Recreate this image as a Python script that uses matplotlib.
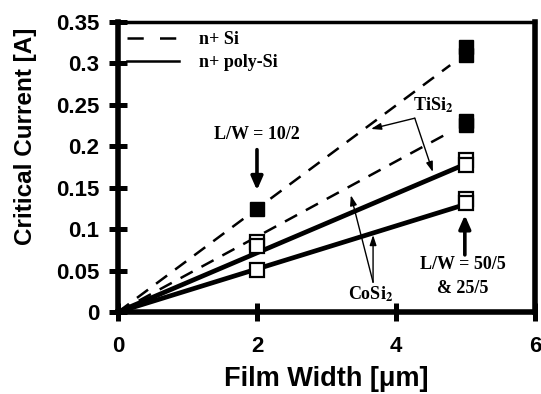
"""Critical current vs film width for TiSi2 / CoSi2 on n+ Si and n+ poly-Si."""
import matplotlib
matplotlib.use("Agg")
import matplotlib.pyplot as plt
from matplotlib.lines import Line2D

plt.rcParams["mathtext.fontset"] = "stix"

SANS = "Liberation Sans"
SERIF = "Liberation Serif"

# fitted lines through the origin (end points)
fit_labels = ["TiSi2 / n+ Si", "CoSi2 / n+ Si", "TiSi2 / n+ poly-Si", "CoSi2 / n+ poly-Si"]
fit_x = [[0, 4.78], [0, 4.75], [0, 5.04], [0, 5.04]]
fit_y = [[0, 0.298], [0, 0.216], [0, 0.180], [0, 0.131]]
fit_dashed = [True, True, False, False]

# measured points
filled_x = [2, 5, 5, 5, 5]
filled_y = [0.124, 0.320, 0.310, 0.230, 0.226]
open_x = [2, 2, 2, 5, 5, 5, 5]
open_y = [0.085, 0.080, 0.051, 0.184, 0.177, 0.137, 0.132]

x_ticks = [0, 2, 4, 6]
y_ticks = [0, 0.05, 0.1, 0.15, 0.2, 0.25, 0.3, 0.35]
y_ticklabels = ["0", "0.05", "0.1", "0.15", "0.2", "0.25", "0.3", "0.35"]

fig = plt.figure(figsize=(5.41, 3.94), dpi=100)
ax = fig.add_axes([0.218, 0.208, 0.771, 0.736])

for xs, ys, dashed in zip(fit_x, fit_y, fit_dashed):
    if dashed:
        ax.plot(xs, ys, color="black", lw=1.8, dashes=(5.5, 4), zorder=2)
    else:
        ax.plot(xs, ys, color="black", lw=3.4, solid_capstyle="butt", zorder=2)

ax.plot(open_x, open_y, "s", ms=10, mfc="white", mec="black", mew=1.6, zorder=3)
ax.plot(filled_x, filled_y, "s", ms=10, mfc="black", mec="black", zorder=4)

ax.set_xlim(0, 6)
ax.set_ylim(0, 0.35)
ax.set_xticks(x_ticks)
ax.set_yticks(y_ticks)
ax.set_yticklabels(y_ticklabels)
for lab in ax.get_xticklabels() + ax.get_yticklabels():
    lab.set_fontfamily(SANS)
    lab.set_fontweight("bold")
    lab.set_fontsize(16)
ax.tick_params(axis="both", direction="inout", length=13, width=3.6)
ax.tick_params(axis="x", pad=11)
ax.tick_params(axis="y", pad=7)
for s in ("left", "bottom", "right"):
    ax.spines[s].set_linewidth(4)
ax.spines["top"].set_linewidth(2.5)

ax.set_xlabel("Film Width [μm]", fontfamily=SANS, fontweight="bold", fontsize=19.5)
ax.set_ylabel("Critical Current [A]", fontfamily=SANS, fontweight="bold", fontsize=17.5)
ax.xaxis.set_label_coords(0.5, -0.232)
ax.yaxis.set_label_coords(-0.222, 0.607)
ax.xaxis.label.set_va("center")
ax.yaxis.label.set_va("center")

handles = [Line2D([], [], color="black", lw=1.8, dashes=(6.5, 6.5)),
           Line2D([], [], color="black", lw=1.8)]
ax.legend(handles, ["n+ Si", "n+ poly-Si"], loc="upper left", frameon=False,
          prop={"family": SERIF, "weight": "bold", "size": 13},
          handlelength=2.9, handletextpad=1.1, labelspacing=0.35,
          borderaxespad=0.3, borderpad=0.2)

serif = dict(fontfamily=SERIF, fontweight="bold", fontsize=13, ha="center", va="center")
thick = dict(arrowstyle="-|>,head_length=0.8,head_width=0.35", color="black", lw=2.6,
             shrinkA=0, shrinkB=0)
thin = dict(arrowstyle="-|>,head_length=0.6,head_width=0.2", color="black", lw=1.0,
            shrinkA=0, shrinkB=0)

ax.text(2.0, 0.214, "L/W = 10/2", **serif)
ax.annotate("", xy=(2.0, 0.147), xytext=(2.0, 0.196), arrowprops=thick)

ax.text(4.96, 0.057, "L/W = 50/5", **serif)
ax.text(4.96, 0.029, "& 25/5", **serif)
ax.annotate("", xy=(4.99, 0.117), xytext=(4.99, 0.069), arrowprops=thick)

ax.text(4.53, 0.250, r"TiSi$_\mathbf{2}$", **serif)
ax.annotate("", xy=(3.64, 0.221), xytext=(4.27, 0.234), arrowprops=thin)
ax.annotate("", xy=(4.53, 0.169), xytext=(4.27, 0.234), arrowprops=thin)

ax.text(3.63, 0.022, r"CoSi$_\mathbf{2}$", **serif)
ax.annotate("", xy=(3.35, 0.141), xytext=(3.67, 0.036), arrowprops=thin)
ax.annotate("", xy=(3.67, 0.093), xytext=(3.67, 0.036), arrowprops=thin)

fig.savefig("out.png", dpi=100)
